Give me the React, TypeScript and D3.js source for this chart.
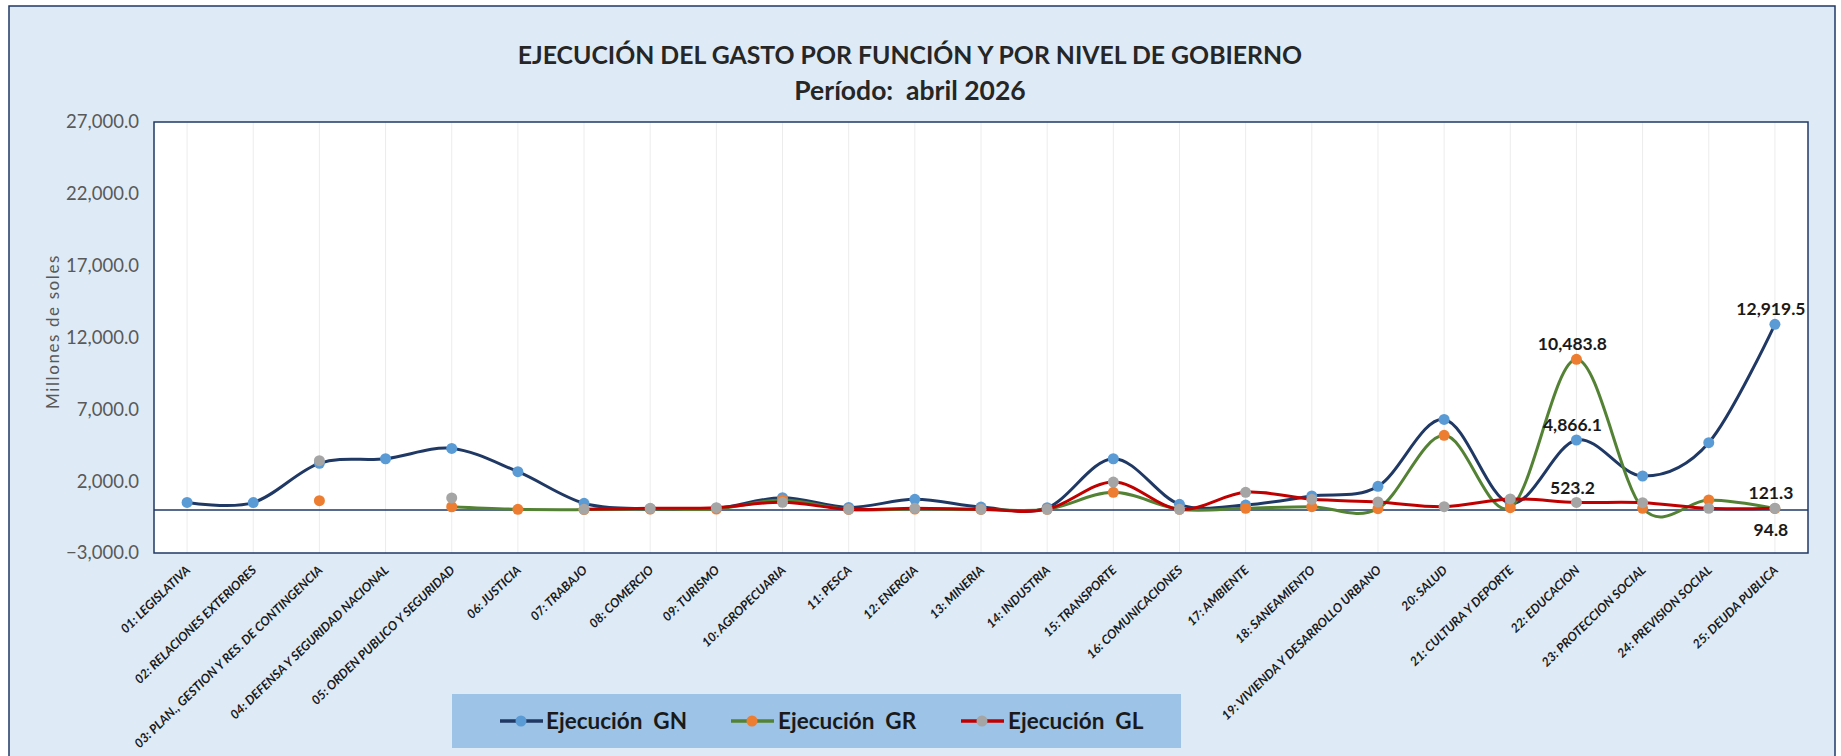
import * as d3 from "d3";
import React from "react";

const categories = [
  "01: LEGISLATIVA",
  "02: RELACIONES EXTERIORES",
  "03: PLAN., GESTION Y RES. DE CONTINGENCIA",
  "04: DEFENSA Y SEGURIDAD NACIONAL",
  "05: ORDEN PUBLICO Y SEGURIDAD",
  "06: JUSTICIA",
  "07: TRABAJO",
  "08: COMERCIO",
  "09: TURISMO",
  "10: AGROPECUARIA",
  "11: PESCA",
  "12: ENERGIA",
  "13: MINERIA",
  "14: INDUSTRIA",
  "15: TRANSPORTE",
  "16: COMUNICACIONES",
  "17: AMBIENTE",
  "18: SANEAMIENTO",
  "19: VIVIENDA Y DESARROLLO URBANO",
  "20: SALUD",
  "21: CULTURA Y DEPORTE",
  "22: EDUCACION",
  "23: PROTECCION SOCIAL",
  "24: PREVISION SOCIAL",
  "25: DEUDA PUBLICA",
];

const gnValues = [
  520, 510, 3240, 3560, 4280, 2660, 460, 80, 120, 850, 170, 740, 200, 150,
  3560, 390, 340, 970, 1640, 6300, 450, 4866.1, 2360, 4680, 12919.5,
];
const grValues = [
  null, null, 640, null, 220, 40, 20, 60, 60, 690, 30, 60, 30, 40,
  1225, 40, 110, 225, 85, 5190, 155, 10483.8, 110, 690, 94.8,
];
const glValues = [
  null, null, 3425, null, 830, null, 40, 110, 155, 530, 40, 110, 40, 40,
  1940, 40, 1225, 740, 550, 225, 760, 523.2, 500, 110, 121.3,
];

const yTicks = [-3000, 2000, 7000, 12000, 17000, 22000, 27000];

// which points carry a value label, and on which side
const dataLabels = [
  { series: "GN", index: 21, side: "above" },
  { series: "GN", index: 24, side: "above" },
  { series: "GR", index: 21, side: "above" },
  { series: "GR", index: 24, side: "below" },
  { series: "GL", index: 21, side: "above" },
  { series: "GL", index: 24, side: "above" },
];

const series = [
  { key: "GN", name: "Ejecución  GN", values: gnValues, line: "#1f3864", marker: "#5b9bd5" },
  { key: "GR", name: "Ejecución  GR", values: grValues, line: "#548235", marker: "#ed7d31" },
  { key: "GL", name: "Ejecución  GL", values: glValues, line: "#c00000", marker: "#a5a5a5" },
];

const W = 1841;
const H = 756;
const plot = { left: 154, right: 1808, top: 122, bottom: 553 };
const FONT = "Lato, 'Open Sans', sans-serif";

export default function App() {
  const x = d3.scaleBand<string>().domain(categories).range([plot.left, plot.right]);
  const cx = (i: number) => (x(categories[i]) as number) + x.bandwidth() / 2;
  const y = d3.scaleLinear().domain([-3000, 27000]).range([plot.bottom, plot.top]);
  const fmt = d3.format(",.1f");

  const line = d3
    .line<number | null>()
    .defined((d) => d !== null)
    .x((_, i) => cx(i))
    .y((d) => y(d as number))
    .curve(d3.curveCardinal.tension(0));

  const legendItems = [
    { lx: 500, tx: 546 },
    { lx: 731, tx: 778 },
    { lx: 961, tx: 1008 },
  ];

  return (
    <svg
      width={W}
      height={H}
      style={{ position: "absolute", left: 0, top: 0, display: "block" }}
      fontFamily={FONT}
    >
      <rect x={9} y={6} width={1826} height={780} fill="#deebf7" stroke="#1f3864" strokeWidth={1.5} />

      <text x={910} y={64} textAnchor="middle" fontSize={24.8} fontWeight="bold" fill="#262626">
        EJECUCIÓN DEL GASTO POR FUNCIÓN Y POR NIVEL DE GOBIERNO
      </text>
      <text x={910} y={100} textAnchor="middle" fontSize={26.5} fontWeight="bold" fill="#262626" style={{ whiteSpace: "pre" }}>
        {"Período:  abril 2026"}
      </text>

      <rect
        x={plot.left}
        y={plot.top}
        width={plot.right - plot.left}
        height={plot.bottom - plot.top}
        fill="#ffffff"
      />
      {categories.map((c, i) => (
        <line key={c} x1={cx(i)} x2={cx(i)} y1={plot.top} y2={plot.bottom} stroke="#ececec" strokeWidth={1} />
      ))}
      <line x1={plot.left} x2={plot.right} y1={y(0)} y2={y(0)} stroke="#1f3864" strokeWidth={1.5} />
      <rect
        x={plot.left}
        y={plot.top}
        width={plot.right - plot.left}
        height={plot.bottom - plot.top}
        fill="none"
        stroke="#1f3864"
        strokeWidth={1.5}
      />

      {yTicks.map((t) => (
        <text key={t} x={139} y={y(t)} dy="0.35em" textAnchor="end" fontSize={18.5} fill="#595959">
          {fmt(t)}
        </text>
      ))}
      <text
        transform={`translate(59,${(plot.top + plot.bottom) / 2 - 6}) rotate(-90)`}
        textAnchor="middle"
        fontSize={17}
        fill="#595959"
        letterSpacing={1.6}
      >
        Millones de soles
      </text>

      {categories.map((c, i) => (
        <text
          key={c}
          transform={`translate(${cx(i) + 4},${plot.bottom + 18}) rotate(-44)`}
          textAnchor="end"
          fontSize={12.5}
          fontStyle="italic"
          fontWeight="bold"
          fill="#1a1a1a"
        >
          {c}
        </text>
      ))}

      {series.map((s) => (
        <g key={s.key}>
          <path d={line(s.values) || ""} fill="none" stroke={s.line} strokeWidth={3} />
          {s.values.map((v, i) =>
            v === null ? null : <circle key={i} cx={cx(i)} cy={y(v)} r={5.5} fill={s.marker} />
          )}
        </g>
      ))}

      {dataLabels.map((l) => {
        const s = series.find((d) => d.key === l.series)!;
        const v = s.values[l.index] as number;
        return (
          <text
            key={l.series + l.index}
            x={cx(l.index) - 4}
            y={y(v) + (l.side === "above" ? -15 : 21)}
            dy="0.35em"
            textAnchor="middle"
            fontSize={17.5}
            fontWeight="bold"
            fill="#1a1a1a"
          >
            {fmt(v)}
          </text>
        );
      })}

      <rect x={452} y={694} width={729} height={54} fill="#9dc3e6" />
      {series.map((s, i) => (
        <g key={s.key}>
          <line x1={legendItems[i].lx} x2={legendItems[i].lx + 43} y1={721} y2={721} stroke={s.line} strokeWidth={3.5} />
          <circle cx={legendItems[i].lx + 21} cy={721} r={5.5} fill={s.marker} />
          <text
            x={legendItems[i].tx}
            y={721}
            dy="0.36em"
            fontSize={22.5}
            fontWeight="bold"
            fill="#1a1a1a"
            style={{ whiteSpace: "pre" }}
          >
            {s.name}
          </text>
        </g>
      ))}
    </svg>
  );
}
